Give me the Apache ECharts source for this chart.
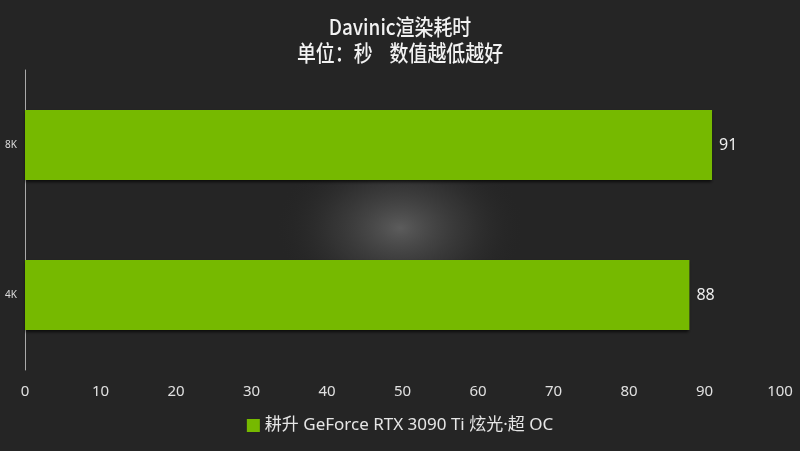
<!DOCTYPE html>
<html><head><meta charset="utf-8">
<script src="https://cdn.jsdelivr.net/npm/echarts@6/dist/echarts.min.js"></script>
<style>html,body{margin:0;padding:0;background:#252525}#c{width:800px;height:451px}</style>
</head><body><div id="c"></div>
<script>
const categories = ['4K', '8K'];
const seriesName = '耕升 GeForce RTX 3090 Ti 炫光·超 OC';
const values = [88, 91];
const titleLine1 = 'Davinic渲染耗时';
const titleLine2 = '单位：秒    数值越低越好';
const xMin = 0, xMax = 100, xInterval = 10;

const chart = echarts.init(document.getElementById('c'), null, {renderer: 'canvas'});
const FONT = '"Noto Sans", "Noto Sans CJK SC", sans-serif';
const titleStyle = {fill: '#f2f2f2', fontSize: 22, fontWeight: 500, fontFamily: '"Noto Sans CJK SC", sans-serif', align: 'center', verticalAlign: 'middle'};
chart.setOption({
  backgroundColor: '#252525',
  graphic: [{
    type: 'circle', z: -10, silent: true,
    x: 400, y: 228, scaleY: 0.7,
    shape: {cx: 0, cy: 0, r: 125},
    style: {fill: {type: 'radial', x: 0.5, y: 0.5, r: 0.5, colorStops: [
      {offset: 0, color: 'rgba(92,92,92,1)'},
      {offset: 0.55, color: 'rgba(60,60,60,0.6)'},
      {offset: 1, color: 'rgba(37,37,37,0)'}]}}
  }, {
    type: 'text', x: 400, y: 27, scaleX: 0.86, silent: true,
    style: Object.assign({text: titleLine1}, titleStyle)
  }, {
    type: 'text', x: 400, y: 53, scaleX: 0.86, silent: true,
    style: Object.assign({text: titleLine2}, titleStyle)
  }],
  legend: {
    bottom: 12, left: 'center', itemWidth: 13, itemHeight: 13, itemGap: 6,
    icon: 'rect',
    textStyle: {color: '#e6e6e6', fontSize: 17, fontFamily: FONT},
    data: [seriesName]
  },
  grid: {left: 25, right: 20, top: 70, bottom: 81, containLabel: false},
  xAxis: {
    type: 'value', min: xMin, max: xMax, interval: xInterval,
    axisLine: {show: false}, axisTick: {show: false}, splitLine: {show: false},
    axisLabel: {color: '#e0e0e0', fontSize: 15, fontFamily: FONT, margin: 14}
  },
  yAxis: {
    type: 'category', data: categories,
    axisLine: {show: true, lineStyle: {color: '#aaaaaa', width: 1}},
    axisTick: {show: false},
    axisLabel: {color: '#dddddd', fontSize: 10, fontFamily: FONT, margin: 8}
  },
  series: [{
    name: seriesName, type: 'bar', data: values, barWidth: 70,
    itemStyle: {color: '#76b900', shadowColor: 'rgba(0,0,0,0.7)', shadowBlur: 3, shadowOffsetY: 2},
    label: {show: true, position: 'right', distance: 7, color: '#eeeeee', fontSize: 16, fontFamily: FONT}
  }]
});
</script></body></html>
